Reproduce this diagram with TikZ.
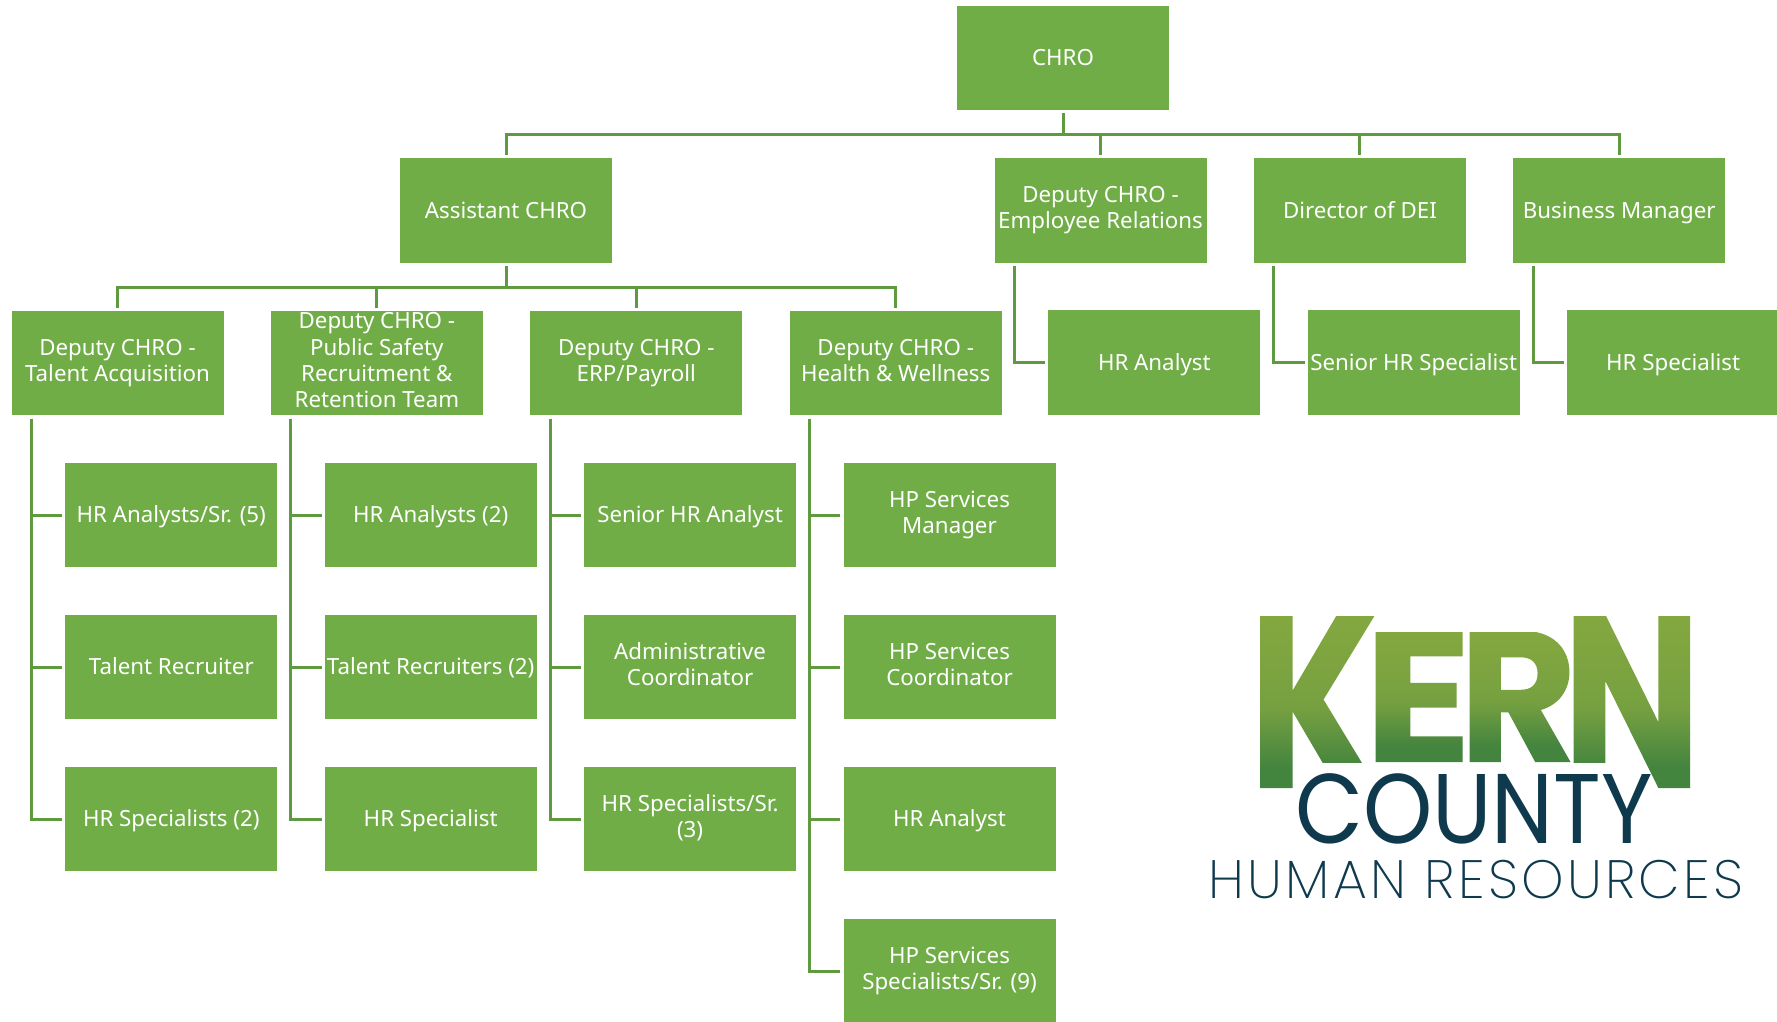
\documentclass[tikz,border=0pt]{standalone}
\usepackage{fontspec}
\usepackage{graphicx}
\setmainfont{Noto Sans}
\newfontfamily\logofont{Poppins}[UprightFont=*]
\newfontfamily\logobold{Poppins}[UprightFont=* Bold]
\newfontfamily\logothin{Poppins}[UprightFont=* ExtraLight,LetterSpace=6]
\usetikzlibrary{positioning}
\definecolor{hrgreen}{HTML}{70AD47}
\definecolor{linkgreen}{HTML}{5F9A40}
\definecolor{logotop}{HTML}{84A840}
\definecolor{logomid}{HTML}{76A040}
\definecolor{logolow}{HTML}{43843F}
\definecolor{logoblue}{HTML}{0F3A4E}
\pgfdeclareverticalshading{kerntall}{300pt}{color(0pt)=(logolow); color(20pt)=(logolow); color(80pt)=(logomid); color(173pt)=(logotop)}
\pgfdeclareverticalshading{kernshort}{300pt}{color(0pt)=(logolow); color(15pt)=(logolow); color(60pt)=(logomid); color(131pt)=(logotop)}
% one logo letter, filled with a shading through its outline
\newcommand{\kernletter}[3]{\scalebox{#1}[1]{\special{x:gsave}\special{pdf:code 7 Tr}\rlap{#3}\special{pdf:code 0 Tr}\rlap{\pgfuseshading{#2}}\special{x:grestore}\phantom{#3}}}
\newcommand{\boxstrut}{\rule[-5.6pt]{0pt}{26.3pt}}

\begin{document}
\begin{tikzpicture}[x=1pt,y=1pt,% one unit is one pixel of the reference
					node distance=47pt,
					hrbox/.style={
						rectangle,fill=hrgreen,text=white,
						align=center,  		% use this so that the "\\" for line break works
						inner sep=0pt,
						minimum width=212pt,
						minimum height=104.6pt,
						font=\fontsize{22.3}{26.3}\selectfont,
						execute at begin node=\boxstrut,
						execute at end node=\boxstrut
						},
					child/.style={below=of #1,xshift=53.8pt},
					logoletter/.style={anchor=base west,inner sep=0pt},
					every edge/.style={draw=linkgreen,line width=3pt,shorten <=3pt,shorten >=3pt},
					treelink/.style={to path={(\tikztostart.south) -- ++(0,-24.5) -| (\tikztotarget.north)}},
					sidelink/.style={to path={([xshift=20pt]\tikztostart.south west) |- (\tikztotarget.west)}}
					]
\useasboundingbox (0,0) rectangle (1777,-1022);
% top of the chart
\node[hrbox](chro) at (1063,-58){CHRO};
\node[hrbox](assistant) at (506,-210.5){Assistant CHRO};
\node[hrbox](relations) at (1100.5,-210.5){Deputy CHRO -\\ Employee Relations};
\node[hrbox](dei)[right= of relations]{Director of DEI};
\node[hrbox](business)[right= of dei]{Business Manager};
% deputies under the assistant
\node[hrbox](talent) at (117.5,-363){Deputy CHRO -\\ Talent Acquisition};
\node[hrbox](safety)[right= of talent]{Deputy CHRO -\\ Public Safety\\ Recruitment \&\\ Retention Team};
\node[hrbox](payroll)[right= of safety]{Deputy CHRO -\\ ERP/Payroll};
\node[hrbox](health)[right= of payroll]{Deputy CHRO -\\ Health \& Wellness};
% single reports on the right
\node[hrbox,child=relations](relAnalyst){HR Analyst};
\node[hrbox,child=dei](deiSenior){Senior HR Specialist};
\node[hrbox,child=business](busSpecialist){HR Specialist};
% talent column
\node[hrbox,child=talent](talAnalysts){HR Analysts/Sr. (5)};
\node[hrbox](talRecruiter)[below= of talAnalysts]{Talent Recruiter};
\node[hrbox](talSpecialists)[below= of talRecruiter]{HR Specialists (2)};
% safety column
\node[hrbox,child=safety](safAnalysts){HR Analysts (2)};
\node[hrbox](safRecruiters)[below= of safAnalysts]{Talent Recruiters (2)};
\node[hrbox](safSpecialist)[below= of safRecruiters]{HR Specialist};
% payroll column
\node[hrbox,child=payroll](paySenior){Senior HR Analyst};
\node[hrbox](payCoord)[below= of paySenior]{Administrative\\ Coordinator};
\node[hrbox](paySpecialists)[below= of payCoord]{HR Specialists/Sr.\\ (3)};
% health column
\node[hrbox,child=health](heaManager){HP Services\\ Manager};
\node[hrbox](heaCoord)[below= of heaManager]{HP Services\\ Coordinator};
\node[hrbox](heaAnalyst)[below= of heaCoord]{HR Analyst};
\node[hrbox](heaSpecialists)[below= of heaAnalyst]{HP Services\\ Specialists/Sr. (9)};
\path
(chro)edge [treelink] (assistant)
(chro)edge [treelink] (relations)
(chro)edge [treelink] (dei)
(chro)edge [treelink] (business)
(assistant)edge [treelink] (talent)
(assistant)edge [treelink] (safety)
(assistant)edge [treelink] (payroll)
(assistant)edge [treelink] (health)
(relations)edge [sidelink] (relAnalyst)
(dei)edge [sidelink] (deiSenior)
(business)edge [sidelink] (busSpecialist)
(talent)edge [sidelink] (talAnalysts)
(talent)edge [sidelink] (talRecruiter)
(talent)edge [sidelink] (talSpecialists)
(safety)edge [sidelink] (safAnalysts)
(safety)edge [sidelink] (safRecruiters)
(safety)edge [sidelink] (safSpecialist)
(payroll)edge [sidelink] (paySenior)
(payroll)edge [sidelink] (payCoord)
(payroll)edge [sidelink] (paySpecialists)
(health)edge [sidelink] (heaManager)
(health)edge [sidelink] (heaCoord)
(health)edge [sidelink] (heaAnalyst)
(health)edge [sidelink] (heaSpecialists)
;
% logo
\node[logoletter,font=\fontsize{247}{247}\logobold](letterK) at (1248,-788){\kernletter{.77}{kerntall}{K}};
\node[logoletter,font=\fontsize{187}{187}\logobold](letterE) at (1363,-762){\kernletter{1.08}{kernshort}{E}};
\node[logoletter,font=\fontsize{187}{187}\logobold](letterR) at (1458,-762){\kernletter{.98}{kernshort}{R}};
\node[logoletter,font=\fontsize{247}{247}\logobold](letterN) at (1562,-788){\kernletter{.75}{kerntall}{N}};
% the K leg and the N stem stop higher than the rest
\fill[white] (1294,-762.5) rectangle (1382,-792);
\fill[white] (1572,-762.5) rectangle (1646,-792);
\node[anchor=base,inner sep=0pt,text=logoblue,font=\fontsize{99}{99}\logofont](county) at (1474,-843){\scalebox{.89}[1]{COUNTY}};
\node[anchor=base,inner sep=0pt,text=logoblue,font=\fontsize{54}{54}\logothin](humanres) at (1476,-898){HUMAN RESOURCES};
\end{tikzpicture}
\end{document}
